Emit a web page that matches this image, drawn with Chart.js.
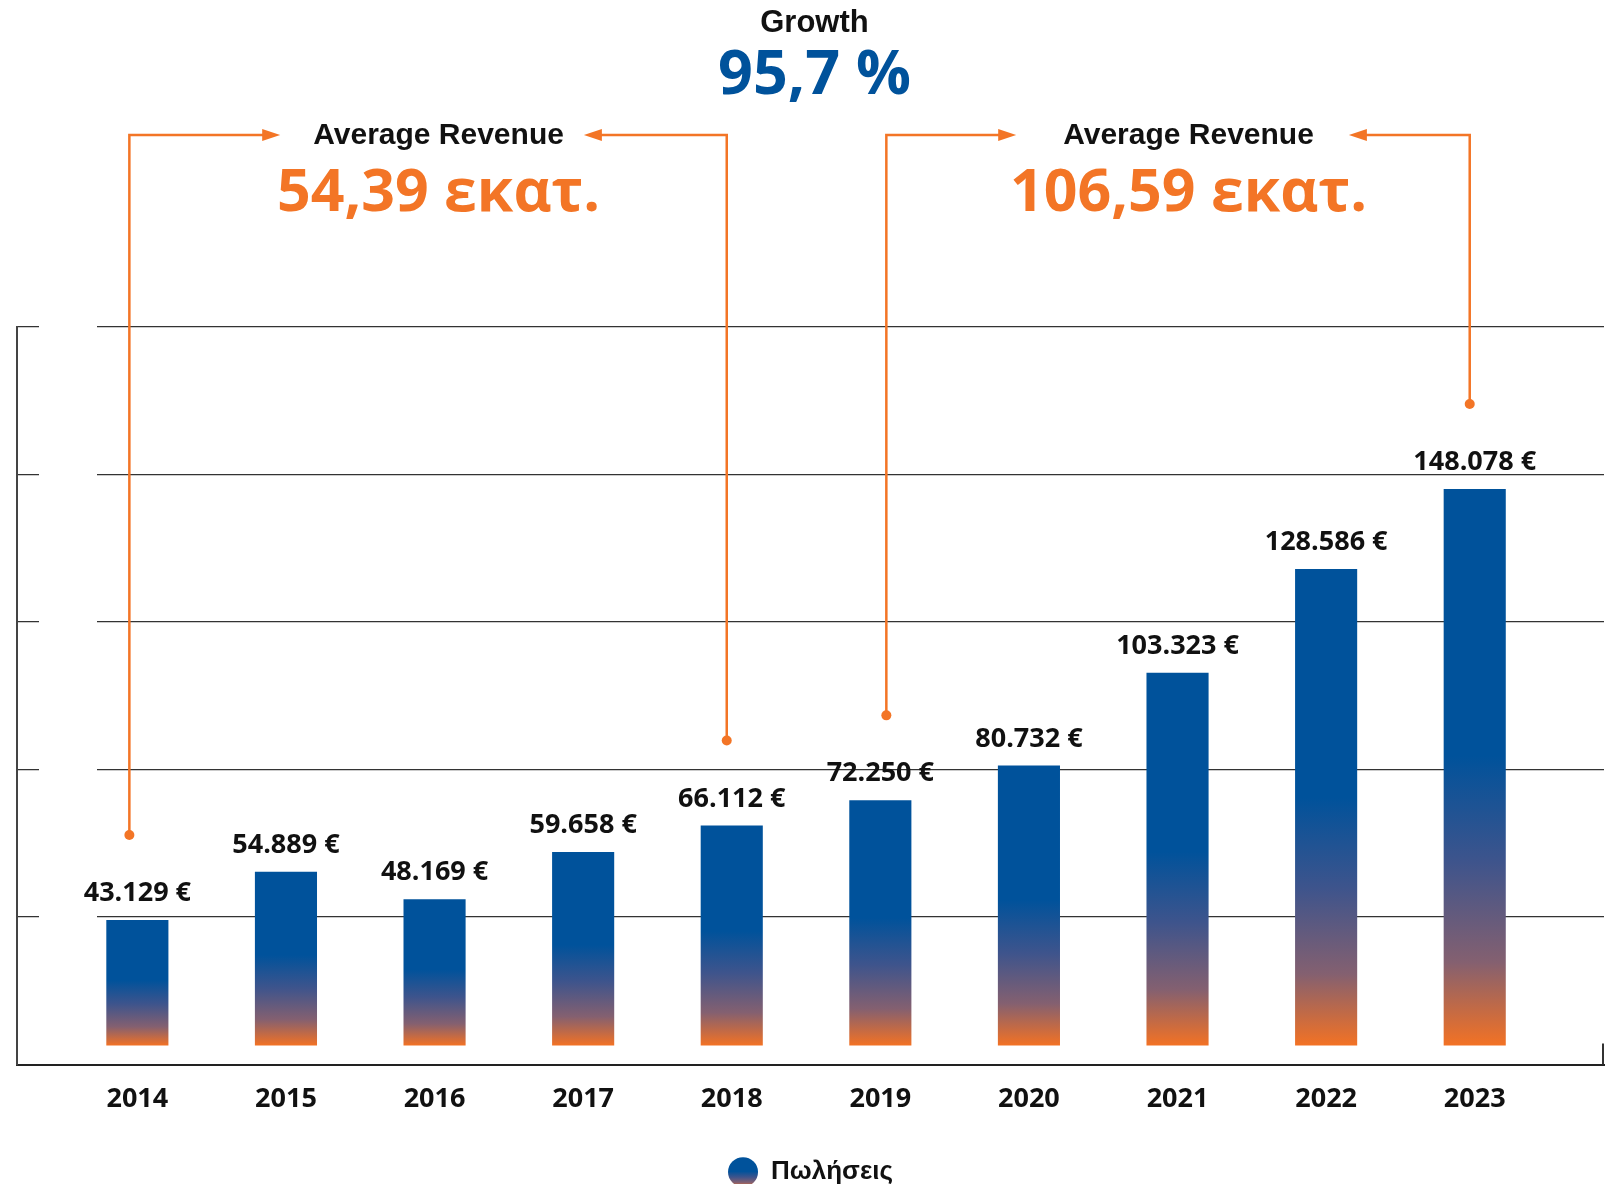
<!DOCTYPE html>
<html>
<head>
<meta charset="utf-8">
<script src="https://cdn.jsdelivr.net/npm/chart.js@4"></script>
<style>
  html, body { margin: 0; padding: 0; background: #fff; }
  #wrap { width: 1609px; height: 1184px; }
</style>
</head>
<body>
<div id="wrap"><canvas id="chart1"></canvas></div>
<script>
// Data
const years = ['2014', '2015', '2016', '2017', '2018', '2019', '2020', '2021', '2022', '2023']
const sales = [43129, 54889, 48169, 59658, 66112, 72250, 80732, 103323, 128586, 148078]
const series_label = 'Πωλήσεις'
const growth_title = 'Growth'
const growth_value = '95,7 %'
const avg_title = 'Average Revenue'
const avg_values = ['54,39 εκατ.', '106,59 εκατ.']
const avg_spans = [['2014', '2018'], ['2019', '2023']]

// value axis range (the original bars are not drawn from zero)
const y_min = 7920
const y_max = 187500
const bar_base = 12550

const blue = '#00529b'
const orange = '#f37526'
const ink = '#111'

const fmt = v => String(v).replace(/\B(?=(\d{3})+(?!\d))/g, '.') + ' €'

function bar_gradient(c) {
    const chart = c.chart
    const y = chart.scales.y
    if (!chart.chartArea || !y || c.type !== 'data') return blue
    const top = y.getPixelForValue(sales[c.dataIndex])
    const bottom = y.getPixelForValue(bar_base)
    if (!isFinite(top) || !isFinite(bottom)) return blue
    return fade(chart.ctx, top, bottom)
}

function fade(ctx, top, bottom) {
    const g = ctx.createLinearGradient(0, top, 0, bottom)
    g.addColorStop(0, blue)
    g.addColorStop(0.48, blue)
    g.addColorStop(0.67, 'rgb(62,84,140)')
    g.addColorStop(0.85, 'rgb(132,96,112)')
    g.addColorStop(1, 'rgb(243,114,36)')
    return g
}

const legend_font = 26
const legend_pad = 24

const decor = {
    id: 'decor',
    beforeDraw(chart) {
        const lg = chart.legend
        if (!lg || !lg.legendItems || !lg.legendItems.length) return
        const cy = lg.top + legend_pad + legend_font / 2
        lg.legendItems[0].fillStyle = fade(chart.ctx, cy - 15, cy + 15)
    },
    afterDatasetsDraw(chart) {
        const ctx = chart.ctx
        const bars = chart.getDatasetMeta(0).data
        ctx.save()
        ctx.fillStyle = ink
        ctx.font = 'bold 27px "Open Sans"'
        ctx.textAlign = 'center'
        ctx.textBaseline = 'alphabetic'
        bars.forEach((b, i) => ctx.fillText(fmt(sales[i]), b.x, b.y - 19))
        ctx.restore()
    },
    afterDraw(chart) {
        const ctx = chart.ctx
        const area = chart.chartArea
        const bars = chart.getDatasetMeta(0).data
        const at = yr => bars[years.indexOf(yr)]

        ctx.save()
        // right end stub of the x axis
        ctx.strokeStyle = '#333'
        ctx.lineWidth = 2
        ctx.beginPath()
        ctx.moveTo(area.right - 1, area.bottom)
        ctx.lineTo(area.right - 1, area.bottom - 21)
        ctx.stroke()

        // growth header
        const mid = (area.left + area.right) / 2 + 4
        ctx.textAlign = 'center'
        ctx.textBaseline = 'alphabetic'
        ctx.fillStyle = ink
        ctx.font = 'bold 31px "Liberation Sans"'
        ctx.fillText(growth_title, mid, 32)
        ctx.fillStyle = blue
        ctx.font = 'bold 61px "Open Sans"'
        ctx.fillText(growth_value, mid, 94)

        // average revenue brackets
        const shifts = [4, 11]
        const gaps = [[33, 20], [47, 35]]
        const dot_dx = [[-8, -5], [6, -5]]
        const line_y = 135
        avg_spans.forEach((span, k) => {
            const a = at(span[0]), b = at(span[1])
            const cx = (a.x + b.x) / 2 + shifts[k]
            ctx.fillStyle = ink
            ctx.font = 'bold 30px "Liberation Sans"'
            ctx.fillText(avg_title, cx, 144)
            const half = ctx.measureText(avg_title).width / 2
            ctx.fillStyle = orange
            ctx.font = 'bold 59px "Open Sans"'
            ctx.fillText(avg_values[k], cx, 211)

            ctx.strokeStyle = orange
            ctx.lineWidth = 2.5
            const tips = [cx - half - gaps[k][0], cx + half + gaps[k][1]]
            ;[a, b].forEach((bar, j) => {
                const dx = bar.x + dot_dx[k][j]
                const dot_y = bar.y - 85
                ctx.beginPath()
                ctx.moveTo(dx, dot_y)
                ctx.lineTo(dx, line_y)
                ctx.lineTo(tips[j] + (j ? 14 : -14), line_y)
                ctx.stroke()
                ctx.fillStyle = orange
                ctx.beginPath()
                ctx.arc(dx, dot_y, 5, 0, Math.PI * 2)
                ctx.fill()
                const dir = j ? -1 : 1
                ctx.beginPath()
                ctx.moveTo(tips[j], line_y)
                ctx.lineTo(tips[j] - dir * 18, line_y - 6)
                ctx.lineTo(tips[j] - dir * 18, line_y + 6)
                ctx.closePath()
                ctx.fill()
            })
        })
        ctx.restore()
    }
}

const config = {
    type: 'bar',
    data: {
        labels: years,
        datasets: [{
            label: series_label,
            data: sales,
            base: bar_base,
            backgroundColor: bar_gradient,
            categoryPercentage: 1,
            barPercentage: 0.418,
        }]
    },
    options: {
        responsive: true,
        maintainAspectRatio: false,
        animation: false,
        layout: { padding: { top: 327, left: 17, right: 5, bottom: -11 } },
        scales: {
            x: {
                type: 'linear',
                bounds: 'data',
                offset: false,
                min: +years[0] - 0.81,
                max: +years[years.length - 1] + 0.87,
                afterBuildTicks: s => { s.ticks = years.map(y => ({ value: +y })) },
                grid: { display: false, drawTicks: false, offset: false },
                border: { display: true, color: '#222', width: 2 },
                ticks: {
                    padding: 19,
                    color: ink,
                    autoSkip: false,
                    maxRotation: 0,
                    font: { family: 'Open Sans', weight: 'bold', size: 27 },
                    callback: v => String(v),
                },
            },
            y: {
                bounds: 'data',
                min: y_min,
                max: y_max,
                afterBuildTicks: s => {
                    s.ticks = [0, 1, 2, 3, 4, 5].map(k => ({ value: y_min + k * (y_max - y_min) / 5 }))
                },
                grid: { color: '#333', lineWidth: 1.2, drawTicks: false },
                border: { display: true, color: '#444', width: 2, dash: [21, 58, 3000, 0] },
                ticks: { display: false },
            },
        },
        plugins: {
            legend: {
                position: 'bottom',
                labels: {
                    usePointStyle: true,
                    pointStyle: 'circle',
                    pointStyleWidth: 30,
                    boxHeight: 21,
                    padding: legend_pad,
                    color: ink,
                    font: { family: 'Liberation Sans', weight: 'bold', size: legend_font },
                },
            },
            tooltip: { enabled: false },
        },
    },
    plugins: [decor],
}

const bar_chart = new Chart(document.getElementById('chart1'), config)
</script>
</body>
</html>
